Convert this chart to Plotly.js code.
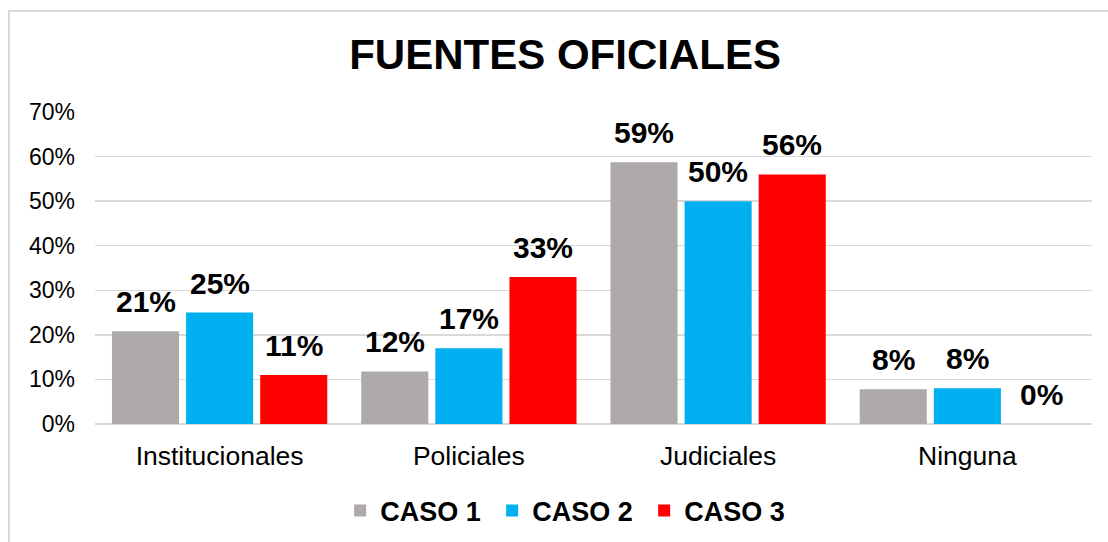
<!DOCTYPE html>
<html>
<head>
<meta charset="utf-8">
<script src="https://cdn.plot.ly/plotly-3.0.1.min.js"></script>
<style>
  html, body { margin: 0; padding: 0; background: #fff; }
  #chart { position: absolute; left: 0; top: 0; width: 1108px; height: 542px; }
  #frame { position: absolute; left: 8px; top: 10px; width: 1300px; height: 700px;
           border-left: 2px solid #D9D9D9; border-top: 2px solid #D9D9D9;
           pointer-events: none; z-index: 5; }
</style>
</head>
<body>
<div id="chart"></div>
<div id="frame"></div>
<script>
const categories = ['Institucionales', 'Policiales', 'Judiciales', 'Ninguna'];
const seriesNames = ['CASO 1', 'CASO 2', 'CASO 3'];
const caso1 = [0.208, 0.118, 0.587, 0.078];
const caso2 = [0.250, 0.170, 0.500, 0.080];
const caso3 = [0.110, 0.330, 0.560, 0.000];
const colors = ['#AEAAAA', '#00B0F0', '#FF0000'];

const FONT = 'Arial, "Liberation Sans", sans-serif';
const values = [caso1, caso2, caso3];

const W = 1108, H = 542;
const margin = { l: 95, r: 16, t: 112, b: 118, autoexpand: false };
const bargap = 0.108;
const nSeries = values.length;

const traces = values.map((v, i) => ({
  type: 'bar',
  name: seriesNames[i],
  x: categories,
  y: v,
  marker: { color: colors[i] },
  hoverinfo: 'skip'
}));

// value labels placed at each bar's top via the axes
const plotW = W - margin.l - margin.r;
const slotPx = (plotW / categories.length) * (1 - bargap) / nSeries;
const annotations = [];
values.forEach((v, i) => {
  v.forEach((val, j) => {
    annotations.push({
      xref: 'x', yref: 'y',
      x: categories[j], y: val,
      xshift: (i - (nSeries - 1) / 2) * slotPx,
      yshift: 11,
      yanchor: 'bottom', xanchor: 'center',
      showarrow: false,
      text: Math.round(val * 100) + '%',
      font: { family: FONT, size: 30, color: '#000000', weight: 'bold' }
    });
  });
});

const layout = {
  width: W,
  height: H,
  margin: margin,
  paper_bgcolor: '#ffffff',
  plot_bgcolor: '#ffffff',
  barmode: 'group',
  bargap: bargap,
  bargroupgap: 0.095,
  title: {
    text: 'FUENTES OFICIALES',
    font: { family: FONT, size: 42, color: '#000000', weight: 'bold' },
    x: 0.51, xanchor: 'center', xref: 'container',
    y: 0.899, yanchor: 'middle', yref: 'container'
  },
  xaxis: {
    type: 'category',
    showgrid: false,
    showline: false,
    ticks: '',
    automargin: false,
    tickfont: { family: FONT, size: 26.5, color: '#000000' },
    ticklabelstandoff: 13
  },
  yaxis: {
    range: [0, 0.7],
    dtick: 0.1,
    tick0: 0,
    tickformat: '.0%',
    showgrid: true,
    gridcolor: '#D9D9D9',
    gridwidth: 1.5,
    zeroline: true,
    zerolinecolor: '#D9D9D9',
    zerolinewidth: 1.5,
    showline: false,
    ticks: '',
    automargin: false,
    tickfont: { family: FONT, size: 23, color: '#000000' },
    ticklabelstandoff: 19
  },
  annotations: annotations,
  showlegend: true,
  legend: {
    orientation: 'h',
    xref: 'container', yref: 'container',
    x: 0.307, xanchor: 'left',
    y: 0.0572, yanchor: 'middle',
    font: { family: FONT, size: 27, color: '#000000', weight: 'bold' },
    entrywidth: 107,
    entrywidthmode: 'pixels',
    bgcolor: 'rgba(0,0,0,0)'
  }
};

Plotly.newPlot('chart', traces, layout, { displayModeBar: false, staticPlot: true });
</script>
</body>
</html>
